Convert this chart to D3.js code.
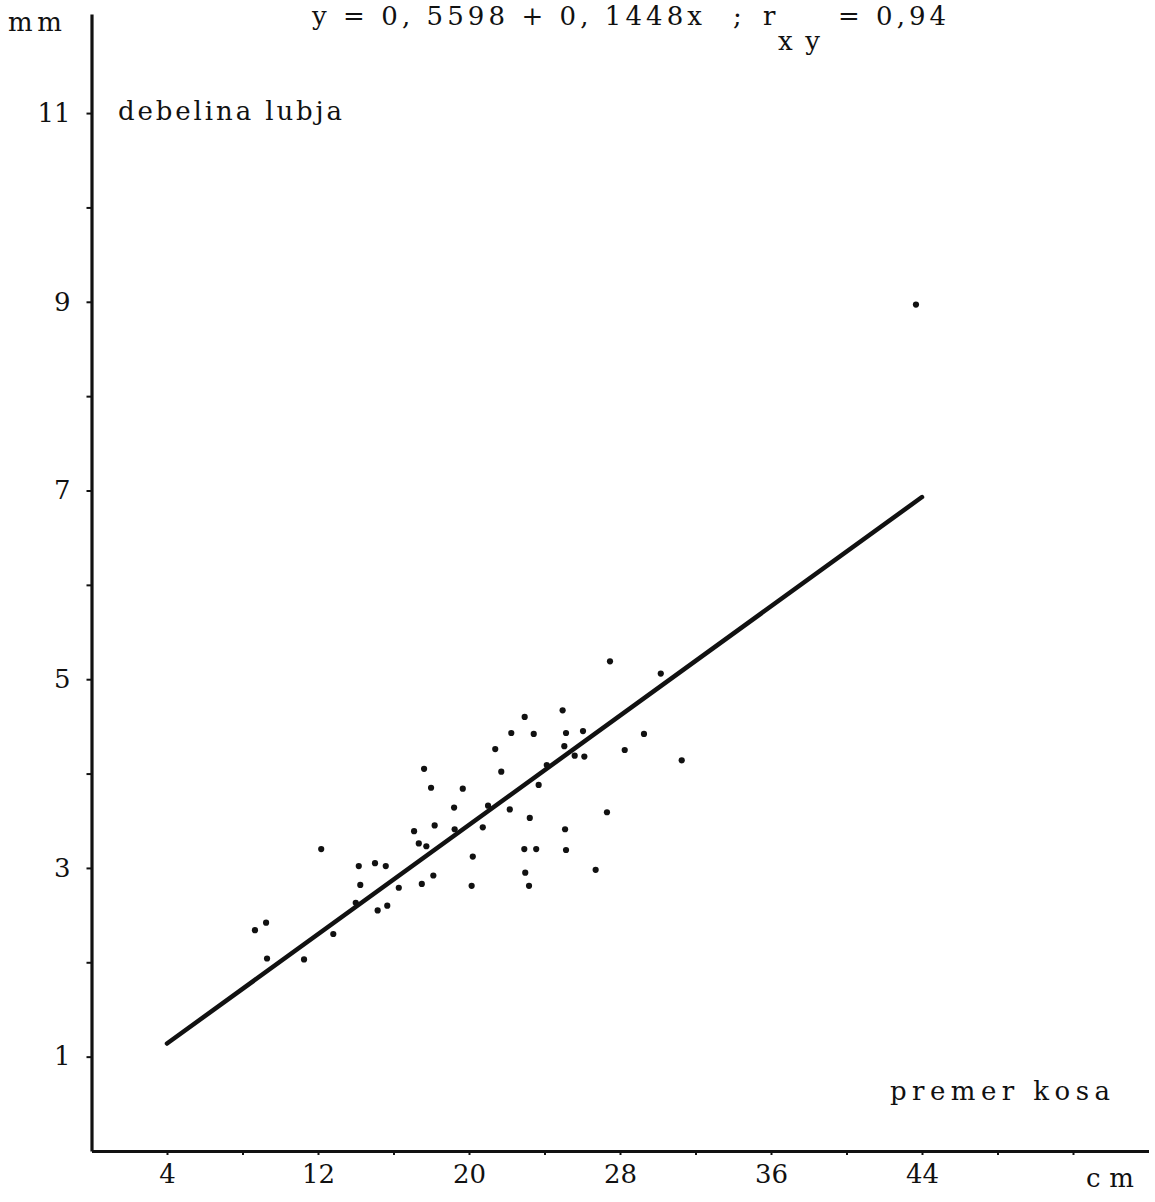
<!DOCTYPE html>
<html>
<head>
<meta charset="utf-8">
<script src="https://cdn.jsdelivr.net/npm/d3@7"></script>
<style>
  html, body { margin: 0; padding: 0; background: #fff; }
  svg { display: block; }
  text { font-family: "DejaVu Serif", "Liberation Serif", serif; fill: #111; }
</style>
</head>
<body>
<svg id="chart" width="1155" height="1202"></svg>
<script>
// bark thickness (mm) against stem diameter (cm)
const diameterCm = [
  8.66, 9.25, 9.30, 11.26, 12.17, 12.81, 14.00, 14.16, 14.24, 15.02,
  15.16, 15.59, 15.67, 16.28, 17.09, 17.34, 17.50, 17.62, 17.74, 17.99,
  18.11, 18.18, 19.21, 19.24, 19.67, 20.14, 20.20, 20.73, 21.01, 21.39,
  21.71, 22.16, 22.24, 22.95, 22.98, 23.18, 22.93, 23.22, 23.43, 23.56,
  23.69, 24.12, 24.96, 25.05, 25.14, 25.09, 25.14, 25.60, 26.04, 26.11,
  26.71, 27.31, 27.47, 28.25, 29.27, 30.16, 31.27, 43.68
];
const barkMm = [
  2.34, 2.42, 2.04, 2.03, 3.20, 2.30, 2.63, 3.02, 2.82, 3.05,
  2.55, 3.02, 2.60, 2.79, 3.39, 3.26, 2.83, 4.05, 3.23, 3.85,
  2.92, 3.45, 3.64, 3.41, 3.84, 2.81, 3.12, 3.43, 3.66, 4.26,
  4.02, 3.62, 4.43, 4.60, 2.95, 2.81, 3.20, 3.53, 4.42, 3.20,
  3.88, 4.09, 4.67, 4.29, 4.43, 3.41, 3.19, 4.19, 4.45, 4.18,
  2.98, 3.59, 5.19, 4.25, 4.42, 5.06, 4.14, 8.97
];

// regression y = a + b·x drawn over the fitted diameter range
const fitIntercept = 0.5598;
const fitSlope = 0.1448;
const fitRange = [4, 44];

const xTickMarks = [4, 8, 12, 16, 20, 24, 28, 32, 36, 40, 44, 48, 52];
const xTickLabels = [4, 12, 20, 28, 36, 44];
const yTickMarks = [1, 2, 3, 4, 5, 6, 7, 8, 9, 10, 11];
const yTickLabels = [1, 3, 5, 7, 9, 11];

const svg = d3.select("#chart");
const fontFamily = "DejaVu Serif, Liberation Serif, serif";
const fontSize = 26;

const x = d3.scaleLinear().domain([0, 56]).range([91.5, 1148.5]);
const y = d3.scaleLinear().domain([0, 12.05]).range([1151, 14]);

// axes
const xAxis = d3.axisBottom(x)
  .tickValues(xTickMarks)
  .tickSize(4)
  .tickSizeOuter(0)
  .tickPadding(10)
  .tickFormat(d => xTickLabels.includes(d) ? String(d) : "");

const yAxis = d3.axisLeft(y)
  .tickValues(yTickMarks)
  .tickSize(5)
  .tickSizeOuter(0)
  .tickPadding(16)
  .tickFormat(d => yTickLabels.includes(d) ? String(d) : "");

const gx = svg.append("g")
  .attr("transform", `translate(0,${y(0)})`)
  .call(xAxis);
gx.select(".domain").attr("stroke", "#111").attr("stroke-width", 3.2);
gx.selectAll(".tick line").attr("stroke", "#111").attr("stroke-width", 2);
gx.selectAll(".tick text")
  .attr("font-family", fontFamily)
  .attr("font-size", fontSize)
  .attr("fill", "#111");

const gy = svg.append("g")
  .attr("transform", `translate(${x(0)},0)`)
  .call(yAxis);
gy.select(".domain").attr("stroke", "#111").attr("stroke-width", 3.2);
gy.selectAll(".tick line").attr("stroke", "#111").attr("stroke-width", 2);
gy.selectAll(".tick text")
  .attr("font-family", fontFamily)
  .attr("font-size", fontSize)
  .attr("fill", "#111")
  .attr("text-anchor", "end");

// fitted line
const lineData = fitRange.map(d => [d, fitIntercept + fitSlope * d]);
svg.append("path")
  .datum(lineData)
  .attr("d", d3.line().x(d => x(d[0])).y(d => y(d[1])))
  .attr("fill", "none")
  .attr("stroke", "#111")
  .attr("stroke-width", 4.5)
  .attr("stroke-linecap", "round");

// observations
svg.append("g")
  .selectAll("circle")
  .data(diameterCm.map((d, i) => [d, barkMm[i]]))
  .join("circle")
  .attr("cx", d => x(d[0]))
  .attr("cy", d => y(d[1]))
  .attr("r", 3.1)
  .attr("fill", "#111");

// labels
const label = (tx, ty, str, len) => {
  const t = svg.append("text").attr("x", tx).attr("y", ty)
    .attr("font-size", fontSize).text(str);
  if (len) t.attr("textLength", len).attr("lengthAdjust", "spacing");
  return t;
};
label(8, 31, "mm", 54);
label(118, 120, "debelina lubja", 224);
label(890, 1100, "premer kosa", 220);
label(1086, 1187, "cm", 48);

// equation heading
label(312, 25, "y = 0, 5598 + 0, 1448x", 390);
label(733, 25, ";");
label(763, 25, "r");
label(778, 50, "xy", 42);
label(838, 25, "= 0,94", 108);
</script>
</body>
</html>
